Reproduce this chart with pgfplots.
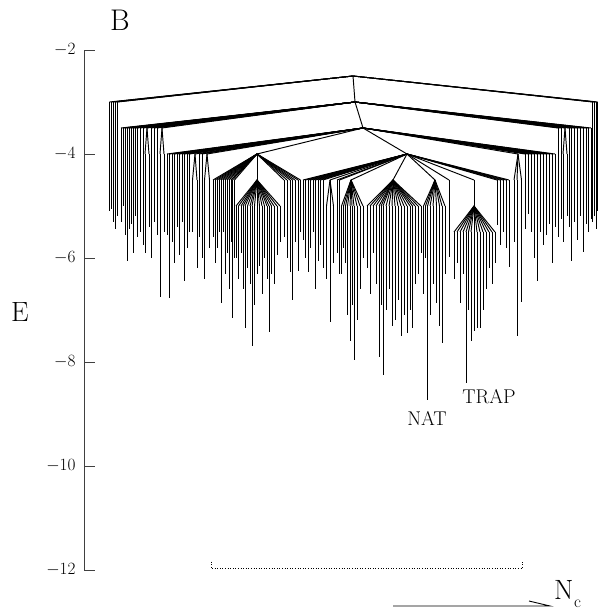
\documentclass[border=0pt]{standalone}
\usepackage{pgfplots}
\usepackage{pgfplotstable}
\pgfplotsset{compat=1.18}
% columns: parent x, parent E, child x, child E (leaf minimum or node energy)
\pgfplotstableread{
px pe x e
353 -2.5 109.5 -5.10
353 -2.5 111.5 -5.05
353 -2.5 113.5 -5.3
353 -2.5 115.5 -5.45
353 -2.5 117.5 -5.2
353 -2.5 592.5 -5.3
353 -2.5 594.5 -5.2
353 -2.5 596 -5.45
353 -2.5 597.5 -5.1
353 -2.5 355 -3.0
355 -3 121 -5.3
355 -3 123 -5.0
355 -3 125 -5.55
355 -3 127 -6.05
355 -3 129 -5.45
355 -3 131 -5.35
355 -3 133 -5.9
355 -3 135 -5.2
355 -3 137 -5.6
355 -3 140 -5.5
355 -3 143 -5.75
355 -3 147 -3.5
355 -3 151 -6.0
355 -3 154 -5.3
355 -3 157 -5.55
355 -3 162 -3.5
147 -3.5 145 -5.9
147 -3.5 149 -5.4
162 -3.5 160 -6.75
162 -3.5 164 -5.5
355 -3 558 -5.6
355 -3 561 -5.25
355 -3 565 -3.5
355 -3 569 -5.4
355 -3 571 -6.05
355 -3 574 -5.3
355 -3 577 -5.65
355 -3 580 -5.2
355 -3 583 -5.88
355 -3 586 -5.35
355 -3 588.5 -5.5
355 -3 591 -5.25
565 -3.5 563 -5.7
565 -3.5 567 -5.2
355 -3 363 -3.5
363 -3.5 167 -5.55
363 -3.5 169.5 -6.77
363 -3.5 172 -5.7
363 -3.5 174.5 -6.1
363 -3.5 177 -5.4
363 -3.5 179.5 -5.95
363 -3.5 182 -5.3
363 -3.5 184.5 -6.45
363 -3.5 187 -5.8
363 -3.5 189.5 -5.5
363 -3.5 195 -4.0
363 -3.5 199 -5.6
363 -3.5 202 -6.0
363 -3.5 207 -4.0
195 -4 192.5 -5.5
195 -4 197 -6.2
207 -4 204.5 -6.4
207 -4 209.5 -5.8
363 -3.5 257 -4
363 -3.5 407 -4
363 -3.5 518 -4
518 -4 514 -5.7
518 -4 517 -7.5
518 -4 521.5 -6.85
363 -3.5 525 -5.45
363 -3.5 528 -5.15
363 -3.5 531 -5.5
363 -3.5 534 -6.0
363 -3.5 537.5 -6.45
363 -3.5 540 -5.5
363 -3.5 543 -5.75
363 -3.5 546 -5.55
363 -3.5 549 -5.35
363 -3.5 552.5 -6.1
363 -3.5 555 -5.4
257 -4 213 -5.6
257 -4 215 -6.1
257 -4 217 -5.8
257 -4 219 -5.5
257 -4 221 -6.87
257 -4 223 -5.5
257 -4 225 -6.3
257 -4 227 -5.9
257 -4 229 -6.6
257 -4 231 -5.7
257 -4 232.5 -7.15
257 -4 234.5 -6.0
257 -4 257 -4.5
257 -4 284 -5.6
257 -4 287 -6.0
257 -4 290 -6.27
257 -4 292.5 -6.8
257 -4 295 -5.7
257 -4 298 -6.25
257 -4 300.5 -5.5
257 -4.5 236 -6.0
257 -4.5 238.5 -6.4
257 -4.5 241 -5.9
257 -4.5 243 -6.6
257 -4.5 245 -7.35
257 -4.5 247.5 -6.2
257 -4.5 250 -6.5
257 -4.5 252 -7.7
257 -4.5 254.5 -6.9
257 -4.5 257 -6.3
257 -4.5 259.5 -6.15
257 -4.5 262 -6.7
257 -4.5 264.5 -6.0
257 -4.5 267 -6.4
257 -4.5 269 -7.42
257 -4.5 271.5 -6.3
257 -4.5 274 -6.5
257 -4.5 277 -5.95
257 -4.5 280 -5.7
407 -4 303 -5.65
407 -4 305.5 -6.0
407 -4 308 -6.27
407 -4 310.5 -5.8
407 -4 313 -5.5
407 -4 315.5 -6.6
407 -4 318 -6.05
407 -4 320.5 -5.75
407 -4 323 -6.2
407 -4 330 -4.5
330 -4.5 326.5 -6.4
330 -4.5 330 -7.23
330 -4.5 333.5 -6.1
407 -4 337 -5.9
407 -4 339.5 -6.3
407 -4 351 -4.5
407 -4 393 -4.5
407 -4 435 -4.5
407 -4 449 -5.98
407 -4 474 -5.0
407 -4 497 -5.37
407 -4 500 -5.75
407 -4 503 -5.5
407 -4 506 -5.8
407 -4 509 -6.17
351 -4.5 341.5 -6.3
351 -4.5 343.5 -5.8
351 -4.5 345.5 -6.1
351 -4.5 347.5 -7.1
351 -4.5 350 -7.6
351 -4.5 352 -6.9
351 -4.5 354 -7.96
351 -4.5 357 -7.2
351 -4.5 360 -6.6
351 -4.5 363 -6.0
393 -4.5 367 -6.2
393 -4.5 370 -6.7
393 -4.5 373 -5.9
393 -4.5 376 -6.5
393 -4.5 379 -7.9
393 -4.5 381 -6.9
393 -4.5 383 -8.25
393 -4.5 386 -7.0
393 -4.5 389 -6.6
393 -4.5 392 -7.3
393 -4.5 395 -7.2
393 -4.5 398 -6.8
393 -4.5 401 -7.5
393 -4.5 404 -7.1
393 -4.5 407 -7.44
393 -4.5 410 -7.0
393 -4.5 412.5 -7.35
393 -4.5 415 -6.5
393 -4.5 418 -6.3
393 -4.5 421 -5.9
435 -4.5 423.5 -6.7
435 -4.5 425.5 -6.0
435 -4.5 427.5 -8.73
435 -4.5 430 -7.1
435 -4.5 433 -6.5
435 -4.5 436.5 -6.87
435 -4.5 439.5 -7.3
435 -4.5 442 -7.64
435 -4.5 445 -6.3
474 -5 454 -6.4
474 -5 457 -6.1
474 -5 460 -6.87
474 -5 463 -6.3
474 -5 466 -8.4
474 -5 468.5 -7.0
474 -5 471 -7.6
474 -5 474 -7.4
474 -5 477 -7.35
474 -5 480 -7.35
474 -5 483 -7.0
474 -5 486 -6.6
474 -5 489 -6.2
474 -5 492 -6.5
474 -5 495 -6.1
}\tree
\begin{document}
\begin{tikzpicture}
\path[use as bounding box] (0,0) rectangle (601bp,-611bp);
\begin{axis}[
  at={(84bp,-570bp)}, anchor=south west,
  scale only axis, width=516bp, height=520bp,
  xmin=84, xmax=600, ymin=-12, ymax=-2,
  axis x line=none, axis y line*=left,
  y axis line style={black!75, line width=0.7bp},
  ytick={-12,-10,-8,-6,-4,-2},
  tick align=inside, major tick length=11bp,
  ytick style={black!75, line width=0.7bp},
  yticklabel style={font=\fontsize{16}{16}\selectfont, xshift=-5bp},
  clip=false,
]
\addplot[black, line width=0.95bp, quiver={u=\thisrow{x}-\thisrow{px}, v=-0.5}] table[x=px, y=pe] {\tree};
\addplot[black, line width=0.95bp, quiver={u=0, v=\thisrow{e}-\thisrow{pe}+0.5}] table[x=x, y expr=\thisrow{pe}-0.5] {\tree};
\addplot[black, line width=0.6bp, dotted] coordinates {(211,-11.84) (211,-11.97) (522,-11.97) (522,-11.84)};
\node[font=\fontsize{20}{20}\selectfont] at (axis cs:427,-9.08) {NAT};
\node[font=\fontsize{20}{20}\selectfont] at (axis cs:489,-8.66) {TRAP};
\end{axis}
\node[font=\fontsize{30}{30}\selectfont] at (120bp,-20bp) {B};
\node[font=\fontsize{28}{28}\selectfont] at (20bp,-312bp) {E};
\draw[black, line width=0.9bp] (393bp,-606bp) -- (550bp,-606bp) -- (529bp,-601bp);
\node[font=\fontsize{28}{28}\selectfont, anchor=base west, inner sep=0pt] at (554bp,-599bp) {N};
\node[font=\fontsize{17}{17}\selectfont, anchor=base west, inner sep=0pt] at (574bp,-607bp) {c};
\end{tikzpicture}
\end{document}
